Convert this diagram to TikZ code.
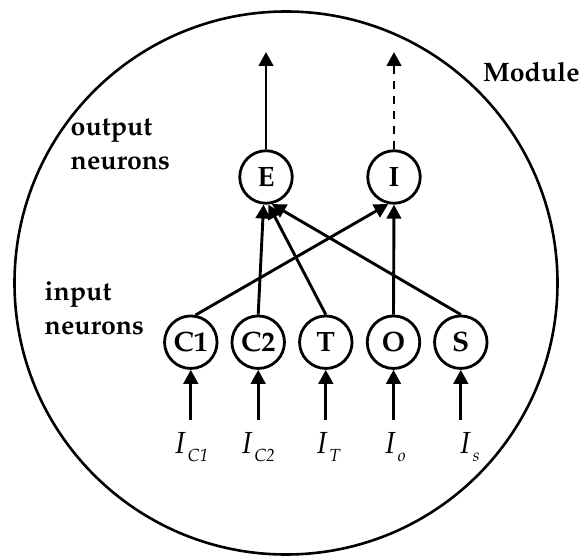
\documentclass[tikz,border=0pt]{standalone}
\usepackage[T1]{fontenc}
\usepackage{mathpazo}
\usetikzlibrary{arrows.meta}
\begin{document}
\begin{tikzpicture}[x=1pt,y=-1pt,
  neuron/.style={circle,draw,line width=2.8pt,minimum size=52.5pt,inner sep=0pt,
    font=\fontsize{28}{30}\selectfont\bfseries},
  link/.style={line width=2.9pt,-{Triangle[length=14pt,width=14.5pt]}},
  grouplabel/.style={font=\fontsize{26.7}{34}\selectfont\bfseries,align=left,
    anchor=base west,inner sep=0pt},
  inlabel/.style={anchor=base west,inner sep=0pt,font=\fontsize{30.5}{30.5}\selectfont\itshape}]
\newcommand{\insignal}[1]{I\hspace{2.5pt}\raisebox{-8pt}{\fontsize{17.5}{17.5}\selectfont\itshape #1}}
\useasboundingbox (0,0) rectangle (582,556);

% module boundary
\draw[line width=2.6pt] (286,283) circle (271.5);
\node[font=\fontsize{26.7}{30}\selectfont\bfseries,anchor=base west,inner sep=0pt] (module) at (483,82) {Module};

% output neurons
\node[neuron] (E) at (266,177) {E};
\node[neuron] (I) at (394,177) {I};

% input neurons
\node[neuron] (C1) at (190.8,342.2) {C1};
\node[neuron] (C2) at (258.2,342.2) {C2};
\node[neuron] (T)  at (325.8,342.2) {T};
\node[neuron] (O)  at (393.5,342.2) {O};
\node[neuron] (S)  at (460.8,342.2) {S};

% group labels
\node[grouplabel] (outlab) at (70.5,170) {output\\neurons};
\node[grouplabel] (inlab) at (44.5,335) {input\\neurons};

% outputs leaving the module
\coordinate (Eout) at (266,52);
\coordinate (Iout) at (394,52);
\draw[link] (E) -- (Eout);
\draw[link,dash pattern=on 8.3pt off 6.7pt] (I) -- (Iout);

% connections between input and output neurons
\draw[link] (C1.80) -- (I.258);
\draw[link] (C2.north) -- (E.265);
\draw[link] (T.north) -- (E.275);
\draw[link] (O.north) -- (I.south);
\draw[link] (S.north) -- (E.282);

% external input signals
\foreach \n/\x/\lx/\s in {C1/190.8/175/C1, C2/258.2/241.7/C2, T/325.8/316.7/T, O/393.5/385/o, S/460.8/460/s}{
  \coordinate (\n in) at (\x,420);
  \draw[link] (\n in) -- (\n);
  \node[inlabel] (\n lab) at (\lx,454) {\insignal{\s}};
}
\end{tikzpicture}
\end{document}
